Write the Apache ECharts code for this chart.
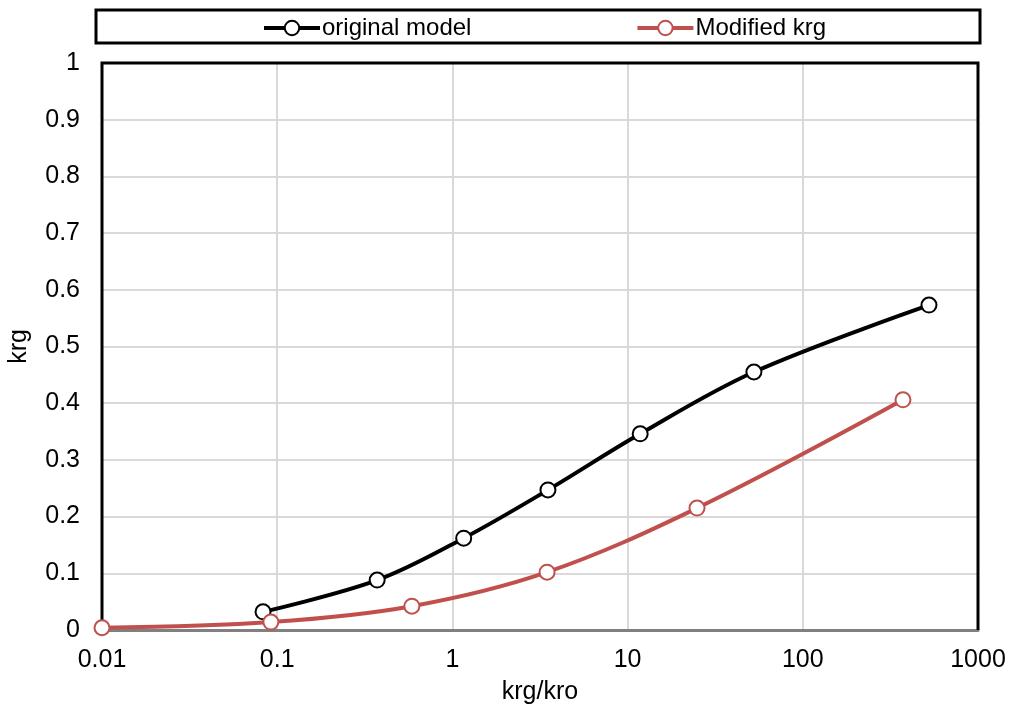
<!DOCTYPE html>
<html>
<head>
<meta charset="utf-8">
<script src="https://cdn.jsdelivr.net/npm/echarts@6/dist/echarts.min.js"></script>
<style>
  html, body { margin: 0; padding: 0; background: #fff; }
  #chart { width: 1014px; height: 709px; }
</style>
</head>
<body>
<div id="chart"></div>
<script>
// krg versus krg/kro for the two relative-permeability models
const originalX = [0.083, 0.372, 1.16, 3.51, 11.8, 52.6, 525];
const originalY = [0.032, 0.088, 0.162, 0.247, 0.346, 0.455, 0.573];
const modifiedX = [0.01, 0.092, 0.587, 3.47, 24.9, 373];
const modifiedY = [0.004, 0.014, 0.042, 0.102, 0.215, 0.406];
const seriesNames = ['original model', 'Modified krg'];
const xTickLabels = ['0.01', '0.1', '1', '10', '100', '1000'];

const font = '"Liberation Sans", Arial, sans-serif';
const pair = (xs, ys) => xs.map((x, i) => [x, ys[i]]);

// plot frame geometry (pixels)
const G = { left: 102, top: 63, right: 978, bottom: 630 };

const chart = echarts.init(document.getElementById('chart'));
chart.setOption({
  animation: false,
  backgroundColor: '#fff',
  grid: {
    left: G.left, right: 1014 - G.right, top: G.top, bottom: 709 - G.bottom,
    outerBoundsMode: 'none',
    containLabel: false
  },
  graphic: [
    {
      type: 'rect',
      shape: { x: 96, y: 10, width: 884, height: 33 },
      style: { fill: 'none', stroke: '#000', lineWidth: 3 },
      z: 0
    },
    {
      type: 'polyline',
      shape: { points: [[G.left, G.bottom], [G.left, G.top], [G.right, G.top], [G.right, G.bottom]] },
      style: { fill: 'none', stroke: '#000', lineWidth: 3 },
      z: 1
    }
  ],
  legend: {
    top: 16,
    left: 262,
    padding: 0,
    itemGap: 164,
    itemWidth: 56,
    itemHeight: 18,
    lineStyle: { width: 4 },
    textStyle: { fontFamily: font, fontSize: 24, color: '#000', padding: [0, 0, 0, -3] },
    data: seriesNames
  },
  xAxis: {
    type: 'log',
    logBase: 10,
    min: 0.01,
    max: 1000,
    name: 'krg/kro',
    nameLocation: 'middle',
    nameGap: 50,
    nameTextStyle: { fontFamily: font, fontSize: 25, color: '#000' },
    axisLine: { show: true, lineStyle: { color: '#808080', width: 3 } },
    axisTick: { show: false },
    minorTick: { show: false },
    axisLabel: {
      fontFamily: font, fontSize: 25, color: '#000', margin: 18,
      formatter: v => {
        const e = Math.round(Math.log10(v));
        return xTickLabels[e + 2];
      }
    },
    splitLine: { show: true, lineStyle: { color: '#d9d9d9', width: 2 } }
  },
  yAxis: {
    type: 'value',
    min: 0,
    max: 1,
    interval: 0.1,
    name: 'krg',
    nameLocation: 'middle',
    nameGap: 70,
    nameTextStyle: { fontFamily: font, fontSize: 25, color: '#000' },
    axisLine: { show: false },
    axisTick: { show: false },
    axisLabel: {
      fontFamily: font, fontSize: 25, color: '#000', margin: 22,
      formatter: v => String(Math.round(v * 10) / 10)
    },
    splitLine: { show: true, lineStyle: { color: '#d9d9d9', width: 2 } }
  },
  series: [
    {
      name: seriesNames[0],
      type: 'line',
      smooth: 0.35,
      data: pair(originalX, originalY),
      symbol: 'circle',
      symbolSize: 15,
      lineStyle: { color: '#000', width: 4 },
      itemStyle: { color: '#fff', borderColor: '#000', borderWidth: 2 },
      color: '#000',
      z: 3
    },
    {
      name: seriesNames[1],
      type: 'line',
      smooth: 0.35,
      data: pair(modifiedX, modifiedY),
      symbol: 'circle',
      symbolSize: 15,
      lineStyle: { color: '#c0504d', width: 4 },
      itemStyle: { color: '#fff', borderColor: '#c0504d', borderWidth: 2 },
      color: '#c0504d',
      z: 4
    }
  ]
});
</script>
</body>
</html>
